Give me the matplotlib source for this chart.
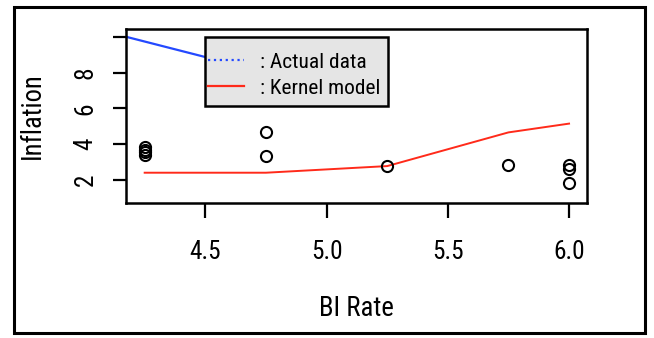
import matplotlib
matplotlib.use("Agg")
import matplotlib.pyplot as plt
from matplotlib.lines import Line2D
from matplotlib.patches import Rectangle
from matplotlib import font_manager
from matplotlib.font_manager import FontProperties
from matplotlib.textpath import TextPath
from matplotlib.legend_handler import HandlerLine2D

names = {f.name for f in font_manager.fontManager.ttflist}
candidates = ['Liberation Sans Narrow', 'Arial Narrow', 'Roboto Condensed', 'PT Sans Narrow',
              'Archivo Narrow', 'Open Sans Condensed', 'Fira Sans Condensed',
              'IBM Plex Sans Condensed', 'Liberation Sans']
font = next(c for c in candidates if c in names) if any(c in names for c in candidates) else 'DejaVu Sans'
plt.rcParams['font.family'] = [font, 'DejaVu Sans']
fp = FontProperties(family=font)


def fit(s, target_px):
    """font size (pt) giving an ink width of target_px at 100 dpi"""
    w = TextPath((0, 0), s, size=10, prop=fp).get_extents().width / 10.0
    return target_px * 72.0 / 100.0 / w


# Data
bi_rate = [4.25, 4.25, 4.25, 4.25, 4.75, 4.75, 5.25, 5.75, 6.0, 6.0, 6.0]
inflation = [3.40, 3.55, 3.70, 3.85, 4.66, 3.35, 2.78, 2.83, 2.83, 2.62, 1.85]

kernel_x = [4.25, 4.75, 5.25, 5.75, 6.0]
kernel_y = [2.41, 2.41, 2.78, 4.66, 5.15]

actual_x = [4.10, 4.75]
actual_y = [10.25, 8.0]

xticks = [4.5, 5.0, 5.5, 6.0]
xtick_labels = ['4.5', '5.0', '5.5', '6.0']
yticks = [2, 4, 6, 8, 10]
ytick_labels = ['2', '4', '6', '8', '']

tick_fs = fit('4.5', 30)
xlab_fs = fit('BI Rate', 72)
ylab_fs = fit('Inflation', 83)
leg_fs = fit(': Kernel model', 118)
F = leg_fs * 100 / 72.0  # legend font size in px

W, H = 654, 338
fig = plt.figure(figsize=(W / 100, H / 100), dpi=100)
ax = fig.add_axes([126 / W, 1 - 203 / H, (587 - 126) / W, (203 - 29) / H])

blue = '#2449ff'
red = '#ff2a1a'

ax.plot(actual_x, actual_y, color=blue, lw=1.6, zorder=2)
ax.plot(kernel_x, kernel_y, color=red, lw=1.4, zorder=2)
ax.plot(bi_rate, inflation, linestyle='none', marker='o', markersize=8,
        markerfacecolor='none', markeredgecolor='black', markeredgewidth=1.5, zorder=3)

ax.set_xlim(4.173, 6.074)
ax.set_ylim(0.72, 10.43)
ax.set_xticks(xticks)
ax.set_xticklabels(xtick_labels)
ax.set_yticks(yticks)
ax.set_yticklabels(ytick_labels)

for s in ax.spines.values():
    s.set_linewidth(1.8)

ax.tick_params(axis='x', direction='out', length=10.8, width=1.6, pad=16, labelsize=tick_fs)
ax.tick_params(axis='y', direction='out', length=9.4, width=1.6, pad=11, labelsize=tick_fs,
               labelrotation=90)
for lab in ax.get_yticklabels():
    lab.set_va('center')

ax.set_xlabel('BI Rate', fontsize=xlab_fs, va='center')
ax.xaxis.set_label_coords(0.5, (338 - 309 - 135) / 174)
ax.set_ylabel('Inflation', fontsize=ylab_fs, va='center')
ax.yaxis.set_label_coords((32 - 126) / 461, 0.5)

# legend layout (pixels measured on the reference)
pad_px = 8.0
xpad_px = 5.0
bp = pad_px / F
hl = 31.0 / F
handles = [Line2D([], [], color=blue, lw=1.6, linestyle=':'),
           Line2D([], [], color=red, lw=1.6)]
hmap = {h: HandlerLine2D(xpad=-xpad_px / F, marker_pad=0) for h in handles}
leg = ax.legend(handles, [': Actual data', ': Kernel model'], handler_map=hmap,
                title=' ', title_fontsize=1,
                loc='upper left', bbox_to_anchor=((205 - 126) / (587 - 126), 1 - (37 - 29) / (203 - 29)),
                borderaxespad=0, fontsize=leg_fs, frameon=True, fancybox=False,
                facecolor='#e5e5e5', edgecolor='black', framealpha=1,
                handlelength=hl, handletextpad=16.0 / F, labelspacing=0.32, borderpad=bp)
leg.get_frame().set_linewidth(1.8)

fig.patches.append(Rectangle((13.8 / W, 1 - 333 / H), (645 - 13.8) / W, (333 - 7) / H,
                             transform=fig.transFigure, fill=False, edgecolor='black',
                             linewidth=2.2))

fig.savefig('out.png', dpi=100)
